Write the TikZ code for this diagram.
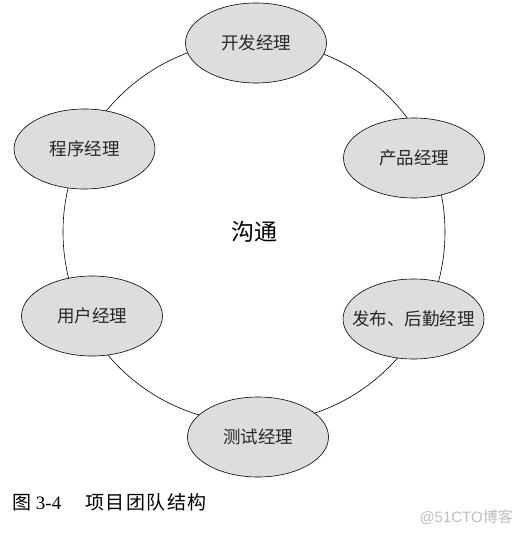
\documentclass[tikz,border=0pt]{standalone}
\usepackage{fontspec}
\setmainfont{Liberation Serif}
\newfontfamily\cjk{Noto Sans CJK SC}
\newfontfamily\wm{Liberation Sans}
\definecolor{ellfill}{RGB}{221,221,221}
\definecolor{wmgray}{RGB}{190,190,190}
\begin{document}
\begin{tikzpicture}[x=1pt,y=1pt,
  lbl/.style={font=\cjk\fontsize{17.5}{19}\selectfont, text=black!85}]
\useasboundingbox (0,0) rectangle (523,-534);
\fill[white] (0,0) rectangle (523,-534);
% ring
\draw[line width=0.6pt] (254,-232) circle (191);
% ellipses
\newcommand\roleE[4]{%
  \filldraw[fill=ellfill, draw=black, line width=0.6pt] (#1,#2) ellipse (70.5 and 40);
  \node[lbl] (#3) at (#1,#2) {#4};}
\roleE{256}{-43}{dev}{开发经理}
\roleE{414}{-158}{prod}{产品经理}
\roleE{413.5}{-319}{rel}{发布、后勤经理}
\roleE{258}{-437}{test}{测试经理}
\roleE{92}{-316}{user}{用户经理}
\roleE{84.5}{-149}{prog}{程序经理}
\node[font=\cjk\fontsize{23}{26}\selectfont] (comm) at (254,-232) {沟通};
\node[anchor=west, font=\fontsize{19}{22}\selectfont, inner sep=0pt] (cap) at (12,-502)
  {{\cjk 图} 3-4\hspace{24pt}{\cjk 项\hspace{1.5pt}目\hspace{1.5pt}团\hspace{1.5pt}队\hspace{1.5pt}结\hspace{1.5pt}构}};
\node[anchor=east, font=\fontsize{15}{17}\selectfont, text=wmgray, inner sep=0pt] (wm) at (513,-517)
  {{\wm @51CTO}{\cjk 博客}};
\end{tikzpicture}
\end{document}
